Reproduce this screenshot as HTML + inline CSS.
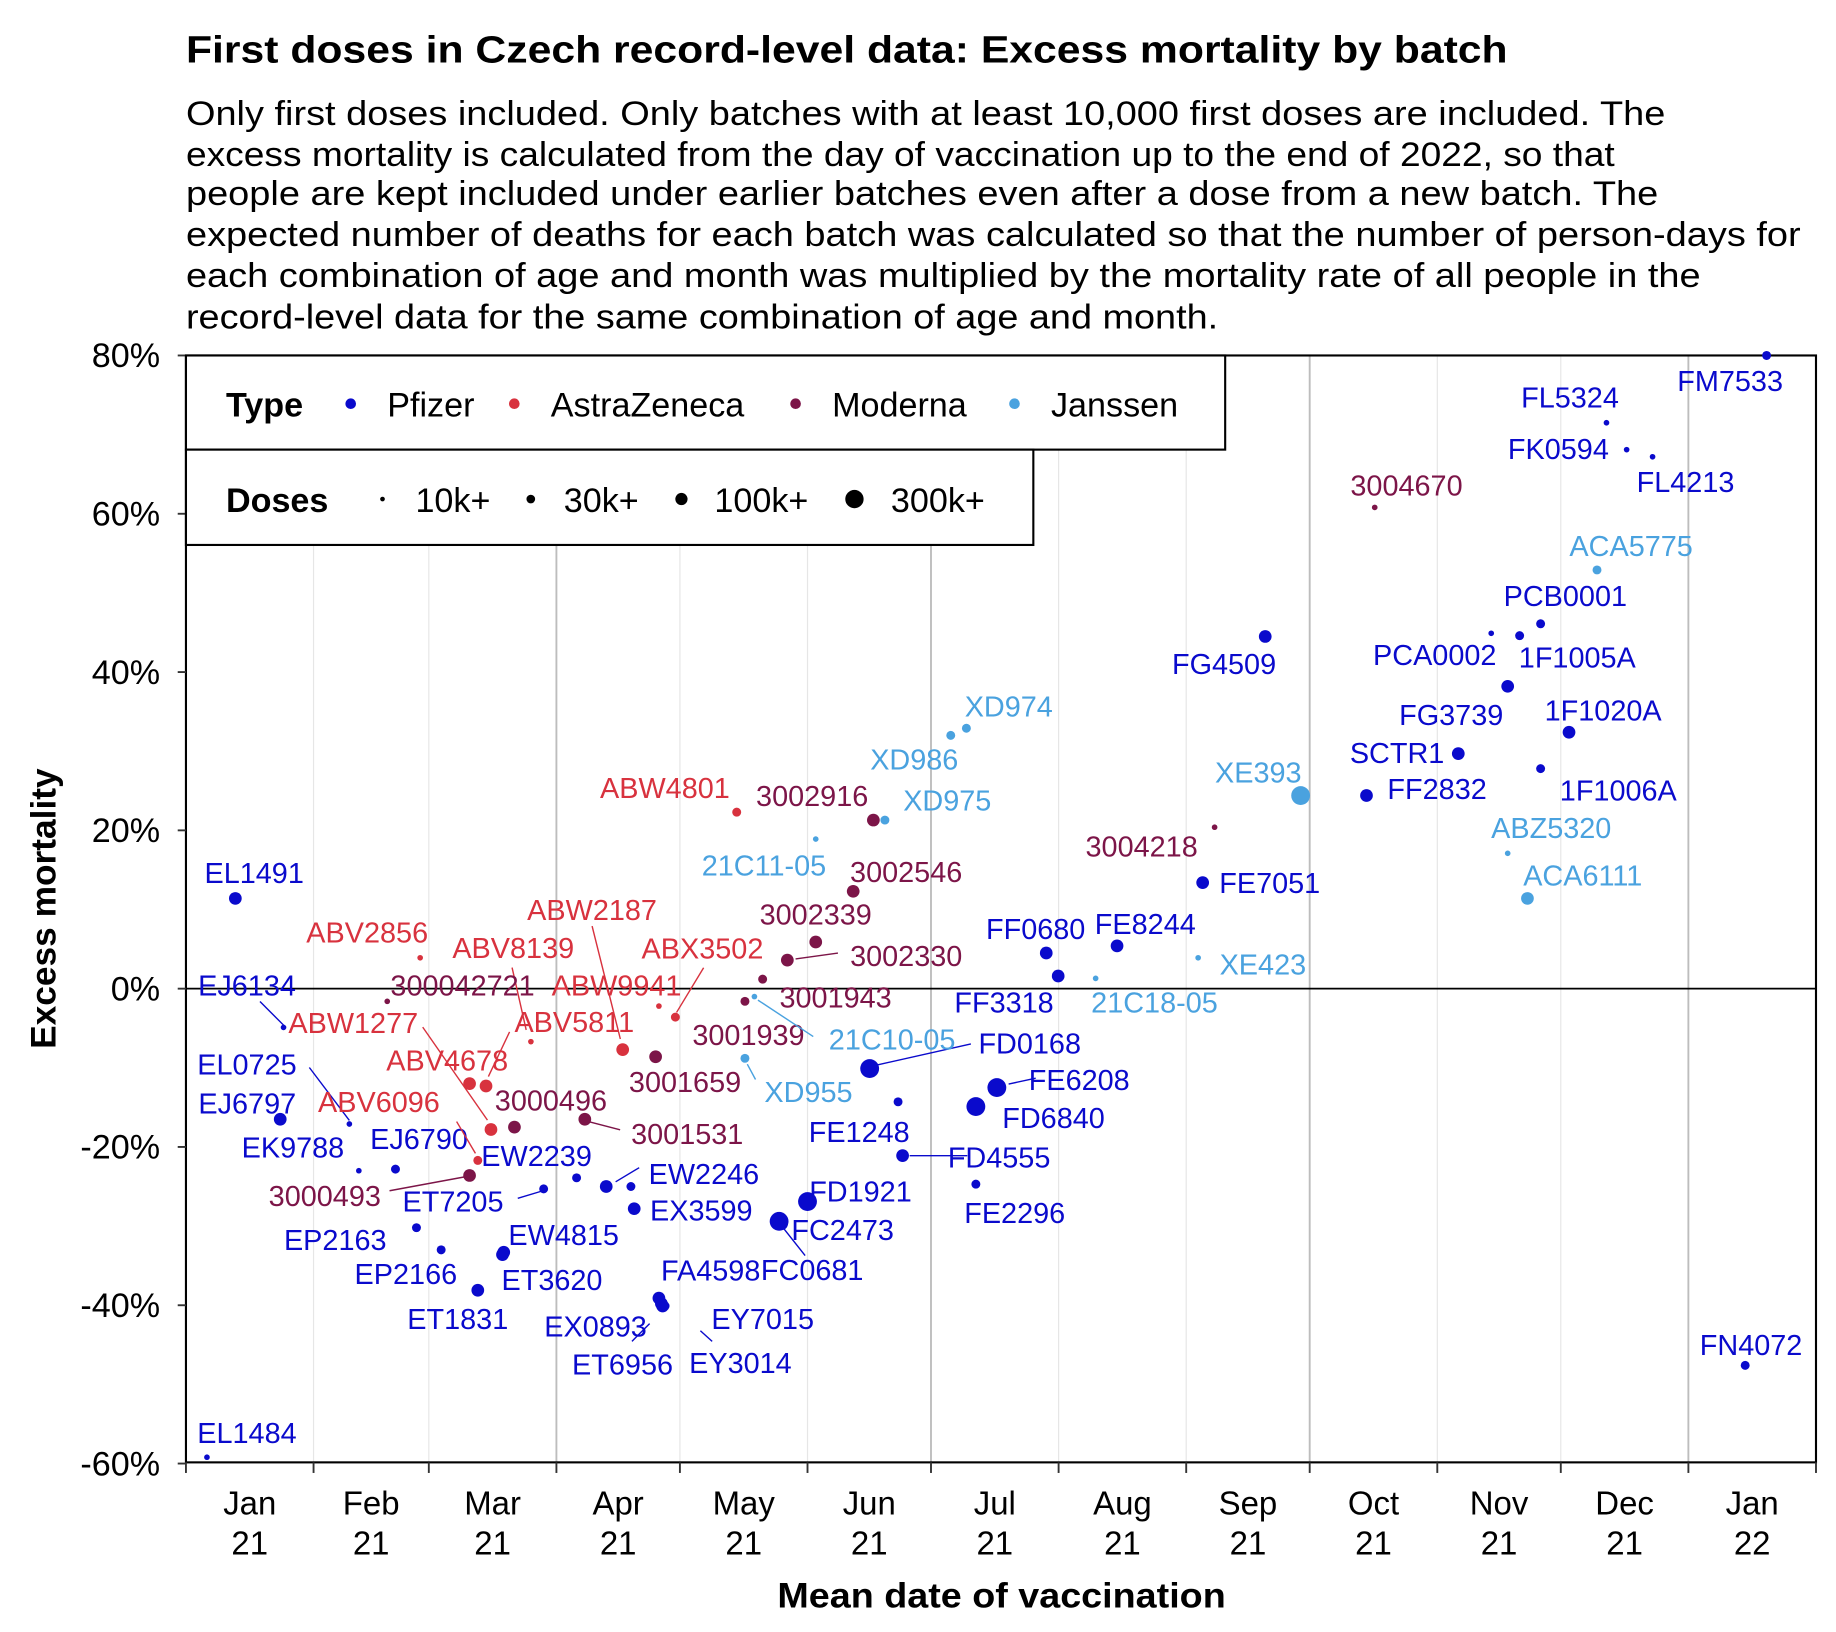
<!DOCTYPE html>
<html><head><meta charset="utf-8">
<style>
html,body{margin:0;padding:0;background:#fff;}
svg{display:block;font-family:"Liberation Sans",Arial,sans-serif;}
</style></head>
<body>
<svg id="chart" width="1836" height="1632" viewBox="0 0 1560 1386.6" xmlns="http://www.w3.org/2000/svg">
<rect x="0" y="0" width="1560" height="1387" fill="#fff"/>
<text x="158" y="53" font-size="32" font-weight="bold" textLength="1123" lengthAdjust="spacingAndGlyphs">First doses in Czech record-level data: Excess mortality by batch</text>
<g font-size="29" fill="#000">
<text x="158" y="106" textLength="1257" lengthAdjust="spacingAndGlyphs">Only first doses included. Only batches with at least 10,000 first doses are included. The</text>
<text x="158" y="141" textLength="1214" lengthAdjust="spacingAndGlyphs">excess mortality is calculated from the day of vaccination up to the end of 2022, so that</text>
<text x="158" y="174" textLength="1251" lengthAdjust="spacingAndGlyphs">people are kept included under earlier batches even after a dose from a new batch. The</text>
<text x="158" y="209" textLength="1372" lengthAdjust="spacingAndGlyphs">expected number of deaths for each batch was calculated so that the number of person-days for</text>
<text x="158" y="244" textLength="1287" lengthAdjust="spacingAndGlyphs">each combination of age and month was multiplied by the mortality rate of all people in the</text>
<text x="158" y="279" textLength="877" lengthAdjust="spacingAndGlyphs">record-level data for the same combination of age and month.</text>
</g>
<g id="grid"></g>
<g id="axes"></g>
<g id="marks"></g>
<g id="legend"></g>
<text transform="translate(47,772) rotate(-90)" text-anchor="middle" font-size="30" font-weight="bold">Excess mortality</text>
<text x="851" y="1366" text-anchor="middle" font-size="30" font-weight="bold" textLength="381" lengthAdjust="spacingAndGlyphs">Mean date of vaccination</text>
</svg>
<script>
// ---- data ----
const batchNames = ["FM7533","FL5324","FK0594","FL4213","PCB0001","PCA0002","1F1005A","FG3739","1F1020A","SCTR1","1F1006A","FF2832","FG4509","FE7051","FE8244","FF0680","FF3318","FD0168","FE6208","FD6840","FE1248","FD4555","FE2296","FD1921","FC2473","FC0681","FA4598","EX0893","ET6956","EY7015","EY3014","EX3599","EW2246","","EW2239","ET7205","EW4815","ET3620","EP2166","ET1831","EP2163","EJ6790","EK9788","EJ6797","EL0725","EJ6134","EL1491","EL1484","FN4072",
"ABW4801","ABV2856","ABV8139","ABW2187","ABX3502","ABW9941","ABV4678","ABV5811","ABW1277","ABV6096",
"300042721","3002916","3002546","3002339","3002330","3001943","3001939","3001659","3000496","3001531","3000493","3004670","3004218",
"ACA5775","ABZ5320","ACA6111","XE393","XE423","21C18-05","XD974","XD986","XD975","21C11-05","21C10-05","XD955"];
const batchTypes = ["P","P","P","P","P","P","P","P","P","P","P","P","P","P","P","P","P","P","P","P","P","P","P","P","P","P","P","P","P","P","P","P","P","P","P","P","P","P","P","P","P","P","P","P","P","P","P","P","P",
"A","A","A","A","A","A","A","A","A","A",
"M","M","M","M","M","M","M","M","M","M","M","M","M",
"J","J","J","J","J","J","J","J","J","J","J","J"];
// days since 2021-01-01 (mean date of vaccination)
const meanDay = [384.0,345.1,350.0,356.3,329.1,317.1,324.0,321.1,336.0,309.1,329.1,286.8,262.2,247.0,226.2,209.0,211.9,166.1,197.0,191.9,173.0,174.1,191.9,151.0,144.1,144.7,114.9,115.8,115.5,116.1,116.4,108.9,102.1,108.1,94.9,86.9,76.9,77.2,62.0,70.9,56.0,50.9,42.0,22.9,39.7,23.7,12.0,5.1,378.8,
133.8,56.9,83.8,106.1,118.9,114.9,68.9,72.9,74.1,70.9,
48.9,167.0,162.1,153.0,146.1,140.1,135.8,114.1,79.8,96.9,68.9,288.8,249.9,
342.8,321.1,325.9,270.8,245.9,221.0,189.6,185.8,169.8,153.0,138.1,135.8];
// excess mortality, percent
const excessPct = [80.0,71.5,68.1,67.2,46.1,44.9,44.6,38.2,32.4,29.7,27.8,24.4,44.5,13.4,5.4,4.5,1.6,-10.1,-12.5,-14.9,-14.3,-21.1,-24.7,-26.9,-29.4,-29.7,-39.1,-40.1,-39.8,-40.0,-40.1,-27.8,-25.0,-25.0,-23.9,-25.3,-33.6,-33.3,-33.0,-38.1,-30.2,-22.8,-23.0,-16.5,-17.1,-4.9,11.4,-59.2,-47.6,
22.3,3.9,-6.7,-7.7,-3.6,-2.2,-12.0,-12.3,-17.8,-21.7,
-1.6,21.3,12.3,5.9,3.6,1.2,-1.6,-8.6,-17.5,-16.5,-23.6,60.8,20.4,
52.9,17.1,11.4,24.4,3.9,1.3,32.9,32.0,21.3,18.9,-1.0,-8.8];
// dose class: 1=10k+,2=30k+,3=100k+,4=300k+
const doseClass = [2,1,1,1,2,1,2,3,3,3,2,3,3,3,3,3,3,4,4,4,2,3,2,4,4,3,3,3,3,2,2,3,3,2,2,2,3,3,2,3,2,2,1,3,1,1,3,1,2,
2,1,1,3,2,1,3,3,3,2,
1,3,3,3,3,2,2,3,3,3,3,1,1,
2,1,3,4,1,1,2,2,2,1,1,2];
const monthLabels = ["Jan","Feb","Mar","Apr","May","Jun","Jul","Aug","Sep","Oct","Nov","Dec","Jan"];
const yearLabels = ["21","21","21","21","21","21","21","21","21","21","21","21","22"];
const monthStartDays = [0,31,59,90,120,151,181,212,243,273,304,334,365,396];
const yTicks = [-60,-40,-20,0,20,40,60,80];

// label layout (offsets from point, in px) — layout only
const labelOff = [[-31,22],[-31,-21],[-58,0],[28,22],[21,-23],[-48,19],[49,19],[-48,25],[29,-18],[-52,0],[66,19],[60,-5],[-35,24],[57,1],[24,-18],[-9,-20],[-46,23],[136,-21],[70,-6],[66,10],[-33,26],[82,2],[33,25],[45,-8],[54,8],[26,40],[44,-23],[-57,18],[-33,52],[84,12],[64,49],[57,2],[83,-10],[0,0],[-34,-18],[-77,11],[52,-16],[41,24],[-30,21],[-17,25],[-69,11],[20,-25],[-56,-19],[-28,-13],[-87,-50],[-31,-35],[16,-21],[34,-20],[5,-17],
[-61,-20],[-45,-21],[-15,-79],[-26,-118],[23,-58],[-36,-17],[-19,-19],[75,-54],[-117,-90],[-84,-49],
[64,-13],[-52,-20],[45,-16],[0,-23],[101,-3],[62,16],[3,29],[25,22],[31,-22],[87,13],[-123,18],[27,-18],[-62,17],
[29,-20],[37,-21],[47,-19],[-36,-19],[55,6],[50,21],[36,-18],[-31,21],[53,-16],[-44,23],[117,37],[54,29]];
const leaders = {17:[6,-3,86,-21],18:[10,-3,33,-8],21:[6,0,55,0],25:[1,3,20,27],28:[-10,17,-25,32],30:[30,21,40,30],32:[8,-4,28,-16],35:[-2,2,-22,8],44:[0,-3,-34,-48],45:[2,0,-20,-22],
51:[-4,-10,-16,-63],52:[-2,-9,-26,-105],53:[1,-4,24,-42],56:[2,-8,20,-46],57:[-3,-8,-58,-87],58:[-2,-6,-18,-33],
63:[7,-1,43,-6],68:[3,2,30,9],69:[-3,1,-68,13],82:[3,3,50,34],83:[2,5,9,18]};

const colors = {P:"#0a0acc",A:"#d8323e",M:"#7c1548",J:"#4aa2df"};
const radii = [0,2.4,3.8,5.4,8];
const X0=158, X1=1543, Y0=1242.5, Y1=302;
const xScale = d => X0 + d*(X1-X0)/396;
const yScale = v => 840 - v*(840-Y1)/80;
const NS="http://www.w3.org/2000/svg";
function mk(tag, attrs, parent){const e=document.createElementNS(NS,tag);for(const k in attrs)e.setAttribute(k,attrs[k]);parent.appendChild(e);return e;}

const grid=document.getElementById('grid'), axes=document.getElementById('axes'), marks=document.getElementById('marks'), legend=document.getElementById('legend');
monthStartDays.forEach((d,i)=>{
  if(i===0||i===13) return;
  const major = (i%3===0);
  const g=mk('line',{x1:xScale(d),x2:xScale(d),y1:Y1,y2:Y0,stroke:major?"#bdbdbd":"#e6e6e6","stroke-width":major?1.6:1},grid);
  
  
});
const zl=mk('line',{x1:X0,x2:X1,y1:yScale(0),y2:yScale(0),stroke:"#000","stroke-width":1.5},axes);


const pb=mk('rect',{x:X0,y:Y1,width:X1-X0,height:Y0-Y1,fill:"none",stroke:"#000","stroke-width":1.8},axes);


yTicks.forEach(v=>{
  const y=yScale(v);
  mk('line',{x1:X0-7,x2:X0,y1:y,y2:y,stroke:"#333","stroke-width":1.6},axes);
  const t=mk('text',{x:136,y:y+10,"text-anchor":"end","font-size":29},axes);
  t.textContent=v+"%";
  
  
});
monthStartDays.forEach(d=>{
  mk('line',{x1:xScale(d),x2:xScale(d),y1:Y0,y2:Y0+9,stroke:"#333","stroke-width":1.6},axes);
});
monthLabels.forEach((m,i)=>{
  const cx=(xScale(monthStartDays[i])+xScale(monthStartDays[i+1]))/2;
  const t=mk('text',{x:cx,y:1287,"text-anchor":"middle","font-size":28},axes);
  t.textContent=m;
  
  
  const t2=mk('text',{x:cx,y:1321,"text-anchor":"middle","font-size":28},axes);
  t2.textContent=yearLabels[i];
  
  
});
batchNames.forEach((n,i)=>{
  const x=xScale(meanDay[i]), y=yScale(excessPct[i]), c=colors[batchTypes[i]];
  if(leaders[i]){const L=leaders[i];
    const ln=mk('line',{x1:x+L[0],y1:y+L[1],x2:x+L[2],y2:y+L[3],stroke:c,"stroke-width":1.2},marks);
    
    
  }
  const p=mk('circle',{cx:x,cy:y,r:radii[doseClass[i]],fill:c},marks);
  
  
  if(n){
    const t=mk('text',{x:x+labelOff[i][0],y:y+labelOff[i][1]+8,"text-anchor":"middle","font-size":24.5,fill:c},marks);
    t.textContent=n;
    
    
  }
});
const lb1=mk('rect',{x:X0,y:Y1,width:883,height:80,fill:"#fff",stroke:"#000","stroke-width":1.8},legend);


const lb2=mk('rect',{x:X0,y:382,width:720,height:81,fill:"#fff",stroke:"#000","stroke-width":1.8},legend);


const tt=mk('text',{x:192,y:354,"font-size":29,"font-weight":"bold"},legend); tt.textContent="Type";


const typeNames=["Pfizer","AstraZeneca","Moderna","Janssen"], typeKeys=["P","A","M","J"], typeDotX=[298,437,676,862];
typeNames.forEach((nm,i)=>{
  mk('circle',{cx:typeDotX[i],cy:343,r:4.5,fill:colors[typeKeys[i]]},legend);
  const t=mk('text',{x:typeDotX[i]+31,y:354,"font-size":29},legend); t.textContent=nm;
  
  
});
const dt=mk('text',{x:192,y:435,"font-size":29,"font-weight":"bold"},legend); dt.textContent="Doses";


const doseNames=["10k+","30k+","100k+","300k+"], doseDotX=[325,451,579,726], doseR=[2,3.7,5.2,7.8];
doseNames.forEach((nm,i)=>{
  mk('circle',{cx:doseDotX[i],cy:424,r:doseR[i],fill:"#000"},legend);
  const t=mk('text',{x:doseDotX[i]+(i===3?31:28),y:435,"font-size":29},legend); t.textContent=nm;
  
  
});
</script>
</body></html>
